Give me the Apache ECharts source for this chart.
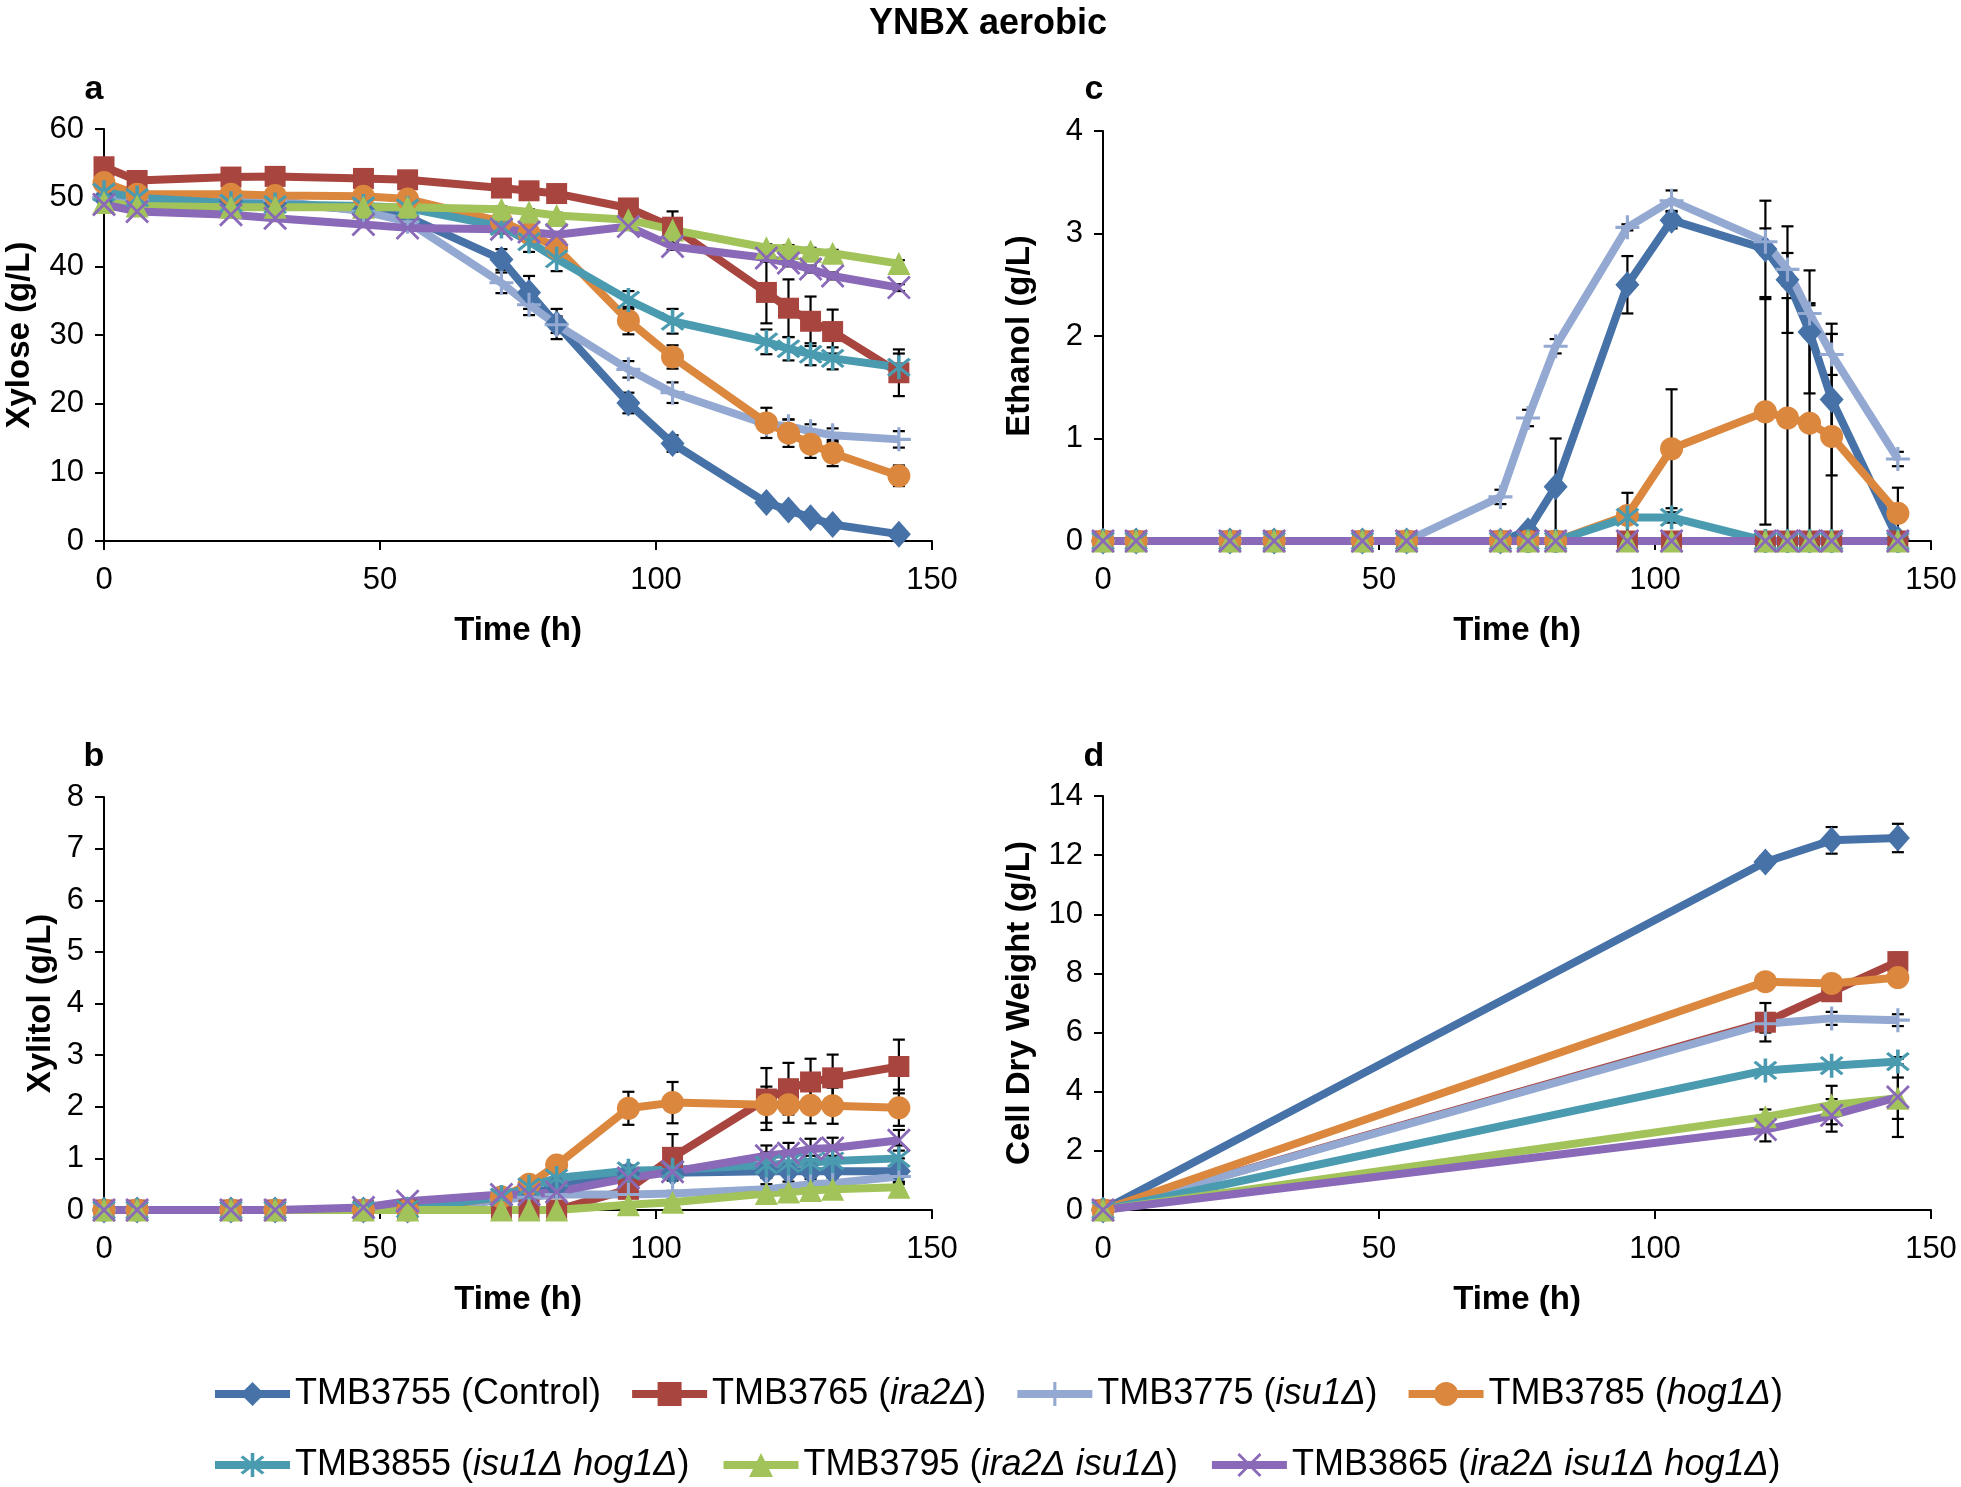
<!DOCTYPE html>
<html><head><meta charset="utf-8">
<script src="https://cdn.jsdelivr.net/npm/echarts@6/dist/echarts.min.js"></script>
<style>html,body{margin:0;padding:0;background:#fff}#c{width:1961px;height:1487px}</style>
</head><body><div id="c"></div>
<script>
// ---------- DATA ----------
const strains = ['TMB3755','TMB3765','TMB3775','TMB3785','TMB3855','TMB3795','TMB3865'];
const genotypes = ['Control','ira2Δ','isu1Δ','hog1Δ','isu1Δ hog1Δ','ira2Δ isu1Δ','ira2Δ isu1Δ hog1Δ'];
const times = [0, 6, 23, 31, 47, 55, 72, 77, 82, 95, 103, 120, 124, 128, 132, 144];
const cdwTimes = [0, 120, 132, 144];

// Xylose (g/L)
const xylose3755 = [50.0, 49.5, 49.5, 49.2, 48.2, 47.2, 41.0, 36.2, 31.6, 20.1, 14.2, 5.6, 4.5, 3.4, 2.4, 1.0];
const xylose3765 = [54.5, 52.5, 53.0, 53.1, 52.8, 52.6, 51.4, 51.0, 50.6, 48.5, 45.7, 36.2, 33.9, 32.0, 30.5, 24.5];
const xylose3775 = [50.0, 49.6, 50.2, 49.6, 48.0, 46.5, 37.6, 34.4, 31.5, 25.0, 21.6, 17.0, 16.7, 16.0, 15.4, 14.8];
const xylose3785 = [52.2, 50.5, 50.5, 50.3, 50.2, 49.8, 46.5, 44.8, 42.7, 32.1, 26.8, 17.2, 15.7, 14.1, 12.8, 9.5];
const xylose3855 = [50.8, 50.0, 49.2, 49.0, 48.8, 48.5, 45.8, 43.6, 41.1, 35.1, 32.0, 29.0, 28.0, 27.2, 26.6, 25.3];
const xylose3795 = [49.3, 48.8, 48.6, 48.6, 48.6, 48.6, 48.3, 47.9, 47.4, 46.8, 45.3, 42.7, 42.6, 42.2, 41.9, 40.4];
const xylose3865 = [49.0, 48.0, 47.5, 47.0, 46.1, 45.6, 45.4, 45.0, 44.6, 45.8, 42.9, 41.2, 40.5, 39.6, 38.6, 36.9];
const xyloseErr3755 = [0.5, 0.5, 0.5, 0.5, 0.5, 0.5, 1.5, 2.4, 2.2, 1.5, 1.2, 0.5, 0.5, 0.5, 0.5, 0.3];
const xyloseErr3765 = [0.5, 0.5, 0.5, 0.5, 0.5, 0.5, 0.8, 0.8, 0.8, 1.0, 2.3, 4.5, 4.2, 3.6, 3.2, 3.4];
const xyloseErr3775 = [0.5, 0.5, 0.5, 0.5, 0.5, 0.5, 1.5, 1.5, 1.2, 1.2, 1.5, 1.0, 1.0, 1.0, 1.0, 1.2];
const xyloseErr3785 = [0.5, 0.5, 0.5, 0.5, 0.5, 0.5, 1.0, 1.0, 1.2, 2.0, 1.7, 2.2, 2.0, 2.0, 1.9, 1.5];
const xyloseErr3855 = [0.5, 0.5, 0.5, 0.5, 0.5, 0.5, 1.0, 1.5, 1.8, 1.3, 1.8, 1.8, 1.7, 1.6, 1.6, 2.0];
const xyloseErr3795 = [0.3, 0.3, 0.3, 0.3, 0.3, 0.3, 0.4, 0.4, 0.4, 0.5, 0.5, 0.5, 0.5, 0.5, 0.5, 0.5];
const xyloseErr3865 = [0.3, 0.3, 0.3, 0.3, 0.3, 0.3, 0.4, 0.4, 0.4, 0.5, 0.5, 0.5, 0.5, 0.5, 0.5, 0.5];

// Ethanol (g/L)
const ethanol3755 = [0, 0, 0, 0, 0, 0, 0, 0.1, 0.53, 2.5, 3.13, 2.85, 2.55, 2.04, 1.38, 0.02];
const ethanol3765 = [0, 0, 0, 0, 0, 0, 0, 0, 0, 0, 0, 0, 0, 0, 0, 0];
const ethanol3775 = [0, 0, 0, 0, 0, 0, 0.43, 1.2, 1.9, 3.06, 3.32, 2.92, 2.65, 2.22, 1.82, 0.8];
const ethanol3785 = [0, 0, 0, 0, 0, 0, 0, 0, 0, 0.25, 0.9, 1.26, 1.2, 1.15, 1.02, 0.27];
const ethanol3855 = [0, 0, 0, 0, 0, 0, 0, 0, 0, 0.23, 0.23, 0, 0, 0, 0, 0];
const ethanol3795 = [0, 0, 0, 0, 0, 0, 0, 0, 0, 0, 0, 0, 0, 0, 0, 0];
const ethanol3865 = [0, 0, 0, 0, 0, 0, 0, 0, 0, 0, 0, 0, 0, 0, 0, 0];
const ethanolErr3755 = [0, 0, 0, 0, 0, 0, 0, 0, 0.47, 0.28, 0.08, 0.47, 0.52, 0.6, 0.74, 0];
const ethanolErr3765 = [0, 0, 0, 0, 0, 0, 0, 0, 0, 0, 0, 0, 0, 0, 0, 0];
const ethanolErr3775 = [0, 0, 0, 0, 0, 0, 0.07, 0.08, 0.07, 0.03, 0.1, 0.13, 0.16, 0.1, 0.2, 0.07];
const ethanolErr3785 = [0, 0, 0, 0, 0, 0, 0, 0, 0, 0.22, 0.58, 1.1, 1.17, 1.15, 1.0, 0.25];
const ethanolErr3855 = [0, 0, 0, 0, 0, 0, 0, 0, 0, 0.05, 0.05, 0, 0, 0, 0, 0];
const ethanolErr3795 = [0, 0, 0, 0, 0, 0, 0, 0, 0, 0, 0, 0, 0, 0, 0, 0];
const ethanolErr3865 = [0, 0, 0, 0, 0, 0, 0, 0, 0, 0, 0, 0, 0, 0, 0, 0];

// Xylitol (g/L)
const xylitol3755 = [0, 0, 0, 0, 0, 0, 0.2, 0.3, 0.45, 0.7, 0.72, 0.75, 0.75, 0.75, 0.75, 0.75];
const xylitol3765 = [0, 0, 0, 0, 0, 0, 0, 0, 0, 0.4, 1.02, 2.15, 2.35, 2.48, 2.56, 2.78];
const xylitol3775 = [0, 0, 0, 0, 0, 0, 0.2, 0.25, 0.3, 0.3, 0.32, 0.4, 0.45, 0.5, 0.52, 0.65];
const xylitol3785 = [0, 0, 0, 0, 0, 0, 0.25, 0.5, 0.87, 1.97, 2.08, 2.04, 2.04, 2.03, 2.02, 1.98];
const xylitol3855 = [0, 0, 0, 0, 0, 0.02, 0.25, 0.45, 0.62, 0.76, 0.78, 0.87, 0.9, 0.92, 0.95, 1.0];
const xylitol3795 = [0, 0, 0, 0, 0, 0, 0, 0, 0, 0.1, 0.15, 0.32, 0.35, 0.38, 0.4, 0.44];
const xylitol3865 = [0, 0, 0, 0, 0.05, 0.17, 0.3, 0.3, 0.35, 0.62, 0.74, 1.05, 1.1, 1.18, 1.2, 1.35];
const xylitolErr3755 = [0, 0, 0, 0, 0, 0, 0.05, 0.05, 0.1, 0.1, 0.1, 0.3, 0.3, 0.3, 0.3, 0.25];
const xylitolErr3765 = [0, 0, 0, 0, 0, 0, 0, 0, 0, 0.1, 0.45, 0.6, 0.5, 0.45, 0.45, 0.52];
const xylitolErr3775 = [0, 0, 0, 0, 0, 0, 0.05, 0.05, 0.05, 0.05, 0.05, 0.1, 0.1, 0.1, 0.1, 0.1];
const xylitolErr3785 = [0, 0, 0, 0, 0, 0, 0.05, 0.1, 0.1, 0.32, 0.4, 0.35, 0.35, 0.35, 0.35, 0.35];
const xylitolErr3855 = [0, 0, 0, 0, 0, 0, 0.05, 0.05, 0.1, 0.1, 0.1, 0.25, 0.25, 0.25, 0.25, 0.25];
const xylitolErr3795 = [0, 0, 0, 0, 0, 0, 0, 0, 0, 0.05, 0.05, 0.1, 0.1, 0.1, 0.1, 0.1];
const xylitolErr3865 = [0, 0, 0, 0, 0, 0, 0.05, 0.05, 0.1, 0.1, 0.1, 0.2, 0.2, 0.2, 0.2, 0.2];

// Cell dry weight (g/L)
const cdw3755 = [0, 11.77, 12.5, 12.58];
const cdw3765 = [0, 6.35, 7.38, 8.4];
const cdw3775 = [0, 6.3, 6.48, 6.42];
const cdw3785 = [0, 7.72, 7.66, 7.86];
const cdw3855 = [0, 4.72, 4.88, 5.02];
const cdw3795 = [0, 3.15, 3.55, 3.78];
const cdw3865 = [0, 2.72, 3.2, 3.82];
const cdwErr3755 = [0, 0.2, 0.45, 0.48];
const cdwErr3765 = [0, 0.65, 0.3, 0.3];
const cdwErr3775 = [0, 0.3, 0.22, 0.2];
const cdwErr3785 = [0, 0.1, 0.1, 0.1];
const cdwErr3855 = [0, 0.1, 0.1, 0.1];
const cdwErr3795 = [0, 0.25, 0.65, 0.7];
const cdwErr3865 = [0, 0.4, 0.55, 1.35];

// Axis tick settings
const xTicks = {min: 0, max: 150, interval: 50};
const xyloseTicks = {min: 0, max: 60, interval: 10};
const ethanolTicks = {min: 0, max: 4, interval: 1};
const xylitolTicks = {min: 0, max: 8, interval: 1};
const cdwTicks = {min: 0, max: 14, interval: 2};

// ---------- STYLE ----------
const colors = ['#4672A8', '#A8453F', '#93A9D2', '#DB873E', '#4A9BB0', '#A2C35A', '#8A69B8'];
const plusPath = 'path://M-1.3,-10L1.3,-10L1.3,-1.3L10,-1.3L10,1.3L1.3,1.3L1.3,10L-1.3,10L-1.3,1.3L-10,1.3L-10,-1.3L-1.3,-1.3Z';
const xPath = 'path://M-9.1,-10.9L10.9,9.1L9.1,10.9L-10.9,-9.1Z M10.9,-9.1L-9.1,10.9L-10.9,9.1L9.1,-10.9Z';
const starPath = 'path://M-6.9,-8.7L8.7,6.9L6.9,8.7L-8.7,-6.9Z M8.7,-6.9L-6.9,8.7L-8.7,6.9L6.9,-8.7Z M-1.3,-10.9L1.3,-10.9L1.3,10.9L-1.3,10.9Z';
const symbols = ['diamond', 'rect', plusPath, 'circle', starPath, 'triangle', xPath];
const symbolSizes = [[24, 27], 21, 24, 23, 24, 23, 24];
const FONT = '"Liberation Sans", Arial, Helvetica, sans-serif';
const LINE_W = 8;

const seriesNames = strains.map((s, i) => s + ' (' + genotypes[i] + ')');

const panels = [
  {name: 'Xylose (g/L)', ticks: xyloseTicks, x: times,
   vals: [xylose3755, xylose3765, xylose3775, xylose3785, xylose3855, xylose3795, xylose3865],
   errs: [xyloseErr3755, xyloseErr3765, xyloseErr3775, xyloseErr3785, xyloseErr3855, xyloseErr3795, xyloseErr3865],
   grid: {left: 104, top: 129, width: 828, height: 412}, nameGap: 68},
  {name: 'Ethanol (g/L)', ticks: ethanolTicks, x: times,
   vals: [ethanol3755, ethanol3765, ethanol3775, ethanol3785, ethanol3855, ethanol3795, ethanol3865],
   errs: [ethanolErr3755, ethanolErr3765, ethanolErr3775, ethanolErr3785, ethanolErr3855, ethanolErr3795, ethanolErr3865],
   grid: {left: 1103, top: 131, width: 828, height: 410}, nameGap: 67},
  {name: 'Xylitol (g/L)', ticks: xylitolTicks, x: times,
   vals: [xylitol3755, xylitol3765, xylitol3775, xylitol3785, xylitol3855, xylitol3795, xylitol3865],
   errs: [xylitolErr3755, xylitolErr3765, xylitolErr3775, xylitolErr3785, xylitolErr3855, xylitolErr3795, xylitolErr3865],
   grid: {left: 104, top: 797, width: 828, height: 413}, nameGap: 47},
  {name: 'Cell Dry Weight (g/L)', ticks: cdwTicks, x: cdwTimes,
   vals: [cdw3755, cdw3765, cdw3775, cdw3785, cdw3855, cdw3795, cdw3865],
   errs: [cdwErr3755, cdwErr3765, cdwErr3775, cdwErr3785, cdwErr3855, cdwErr3795, cdwErr3865],
   grid: {left: 1103, top: 796, width: 828, height: 414}, nameGap: 67}
];

const axisCommon = {
  axisLine: {lineStyle: {color: '#000', width: 2}},
  axisTick: {show: true, length: 9, lineStyle: {color: '#000', width: 2}},
  splitLine: {show: false},
  axisLabel: {color: '#000', fontSize: 31, fontFamily: FONT},
  nameTextStyle: {color: '#000', fontSize: 33, fontWeight: 'bold', fontFamily: FONT},
  nameLocation: 'middle'
};

const grids = [], xAxes = [], yAxes = [], series = [];
panels.forEach((p, k) => {
  grids.push(Object.assign({containLabel: false}, p.grid));
  xAxes.push(Object.assign({}, axisCommon, {
    type: 'value', gridIndex: k, min: xTicks.min, max: xTicks.max, interval: xTicks.interval,
    name: 'Time (h)', nameGap: 73,
    axisLabel: Object.assign({}, axisCommon.axisLabel, {margin: 24})
  }));
  yAxes.push(Object.assign({}, axisCommon, {
    type: 'value', gridIndex: k, min: p.ticks.min, max: p.ticks.max, interval: p.ticks.interval,
    name: p.name, nameGap: p.nameGap,
    axisLabel: Object.assign({}, axisCommon.axisLabel, {margin: 20})
  }));
  // error bars
  const errData = [];
  p.vals.forEach((v, s) => {
    v.forEach((y, i) => { if (p.errs[s][i] > 0) errData.push([p.x[i], y, p.errs[s][i]]); });
  });
  series.push({
    type: 'custom', xAxisIndex: k, yAxisIndex: k, z: 1, silent: true, clip: false,
    data: errData, encode: {x: 0, y: 1},
    renderItem: function (params, api) {
      const x = api.value(0), y = api.value(1), e = api.value(2);
      const a = api.coord([x, y + e]), b = api.coord([x, y - e]);
      const st = {stroke: '#000', lineWidth: 2.2};
      const w = 6;
      return {type: 'group', children: [
        {type: 'line', shape: {x1: a[0], y1: a[1], x2: b[0], y2: b[1]}, style: st},
        {type: 'line', shape: {x1: a[0] - w, y1: a[1], x2: a[0] + w, y2: a[1]}, style: st},
        {type: 'line', shape: {x1: b[0] - w, y1: b[1], x2: b[0] + w, y2: b[1]}, style: st}
      ]};
    }
  });
  p.vals.forEach((v, s) => {
    series.push({
      type: 'line', name: seriesNames[s], xAxisIndex: k, yAxisIndex: k, z: 2,
      data: p.x.map((t, i) => [t, v[i]]),
      symbol: symbols[s], symbolSize: symbolSizes[s], showSymbol: true, clip: false,
      lineStyle: {color: colors[s], width: LINE_W},
      itemStyle: {color: colors[s]},
      emphasis: {disabled: true}, silent: true
    });
  });
});

const legendText = {
  color: '#000', fontSize: 36, fontFamily: FONT,
  rich: {i: {fontStyle: 'italic', fontSize: 36, fontFamily: FONT, color: '#000'}}
};
const legendFmt = function (name) {
  const m = name.match(/^(\S+) \((.*)\)$/);
  if (!m || m[2] === 'Control') return name;
  return m[1] + ' ({i|' + m[2] + '})';
};
const legendBase = {
  orient: 'horizontal', itemWidth: 75, itemHeight: 30, selectedMode: false,
  lineStyle: {width: LINE_W}, textStyle: legendText, formatter: legendFmt, padding: 0
};

const option = {
  animation: false,
  backgroundColor: '#fff',
  grid: grids, xAxis: xAxes, yAxis: yAxes, series: series,
  legend: [
    Object.assign({}, legendBase, {data: seriesNames.slice(0, 4), left: 211, top: 1376, itemGap: 27}),
    Object.assign({}, legendBase, {data: seriesNames.slice(4), left: 211, top: 1447, itemGap: 30})
  ],
  graphic: [
    {type: 'text', x: 988, y: 24, style: {text: 'YNBX aerobic', fontSize: 36, fontWeight: 'bold', fontFamily: FONT, fill: '#000', align: 'center', verticalAlign: 'middle'}},
    {type: 'text', x: 94, y: 90, style: {text: 'a', fontSize: 34, fontWeight: 'bold', fontFamily: FONT, fill: '#000', align: 'center', verticalAlign: 'middle'}},
    {type: 'text', x: 1094, y: 90, style: {text: 'c', fontSize: 34, fontWeight: 'bold', fontFamily: FONT, fill: '#000', align: 'center', verticalAlign: 'middle'}},
    {type: 'text', x: 94, y: 757, style: {text: 'b', fontSize: 34, fontWeight: 'bold', fontFamily: FONT, fill: '#000', align: 'center', verticalAlign: 'middle'}},
    {type: 'text', x: 1094, y: 757, style: {text: 'd', fontSize: 34, fontWeight: 'bold', fontFamily: FONT, fill: '#000', align: 'center', verticalAlign: 'middle'}}
  ]
};
const chart = echarts.init(document.getElementById('c'), null, {renderer: 'canvas'});
chart.setOption(option);
</script></body></html>
